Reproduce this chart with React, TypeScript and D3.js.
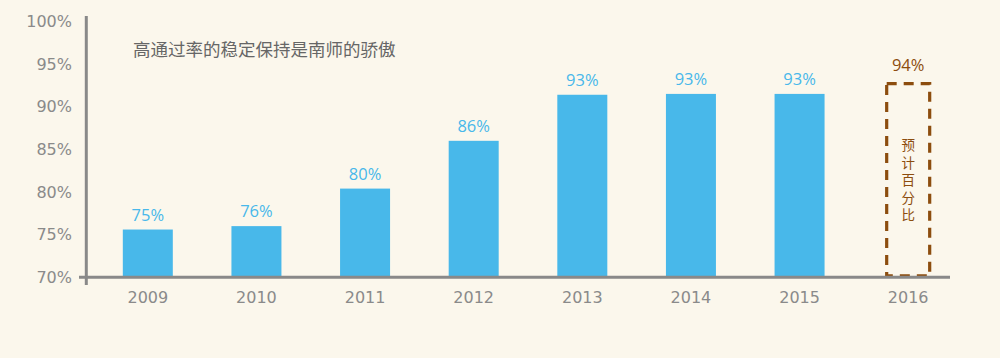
import React from "react";
import * as d3 from "d3";

const years = ["2009", "2010", "2011", "2012", "2013", "2014", "2015", "2016"];
const barValues = [75.6, 76.0, 80.4, 86.0, 91.4, 91.5, 91.5];
const barLabels = ["75%", "76%", "80%", "86%", "93%", "93%", "93%"];
const forecastValue = 92.7;
const forecastLabel = "94%";
const forecastText = "预计百分比";
const yTicks = [70, 75, 80, 85, 90, 95, 100];
const title = "高通过率的稳定保持是南师的骄傲";

const W = 1000;
const H = 358;

export default function App() {
  const x = d3.scaleBand<string>().domain(years).range([93.5, 962.5]).paddingInner(0).paddingOuter(0);
  const y = d3.scaleLinear().domain([70, 100]).range([277.3, 21.4]);
  const barW = 50;
  const axisColor = "#898989";
  const textColor = "#8a8a8a";
  const blue = "#48b8ea";
  const brown = "#8c4d0e";
  const font = "'Open Sans', 'Noto Sans', sans-serif";
  const axisFont = "'DejaVu Sans', sans-serif";
  const cjk = "'Noto Sans CJK SC', sans-serif";
  const cx = (c: string) => (x(c) as number) + x.bandwidth() / 2;
  const fc = years[years.length - 1];
  const boxW = 43;
  return (
    <svg width={W} height={H} style={{ position: "absolute", left: 0, top: 0, background: "#fbf7ec" }}>
      <rect x={0} y={0} width={W} height={H} fill="#fbf7ec" />
      {yTicks.map((t) => (
        <text key={t} x={72} y={y(t)} dy="0.36em" textAnchor="end" fontSize={16} fill={textColor} fontFamily={axisFont}>
          {t}%
        </text>
      ))}
      <text x={133} y={49.5} dy="0.36em" fontSize={17.5} fill="#666" fontFamily={cjk}>
        {title}
      </text>
      {barValues.map((v, i) => (
        <g key={years[i]}>
          <rect x={cx(years[i]) - barW / 2} y={y(v)} width={barW} height={y(70) - y(v)} fill={blue} />
          <text x={cx(years[i])} y={y(v) - 9} textAnchor="middle" fontSize={16.5} fill={blue} fontFamily={font}>
            {barLabels[i]}
          </text>
        </g>
      ))}
      <rect
        x={cx(fc) - boxW / 2}
        y={y(forecastValue)}
        width={boxW}
        height={y(70) - y(forecastValue) - 1.5}
        fill="none"
        stroke={brown}
        strokeWidth={3.2}
        strokeDasharray="10,7"
      />
      <text x={cx(fc)} y={y(forecastValue) - 13} textAnchor="middle" fontSize={16.5} fill={brown} fontFamily={font}>
        {forecastLabel}
      </text>
      <text
        x={cx(fc)}
        y={182}
        textAnchor="middle"
        fontSize={13.5}
        fill={brown}
        fontFamily={cjk}
        style={{ writingMode: "vertical-rl", letterSpacing: "4px" }}
      >
        {forecastText}
      </text>
      <line x1={86.3} x2={86.3} y1={16} y2={285} stroke={axisColor} strokeWidth={3} />
      <line x1={79} x2={950} y1={277.3} y2={277.3} stroke={axisColor} strokeWidth={3} />
      {years.map((c) => (
        <text key={c} x={cx(c)} y={297} dy="0.36em" textAnchor="middle" fontSize={16} fill={textColor} fontFamily={axisFont}>
          {c}
        </text>
      ))}
    </svg>
  );
}
